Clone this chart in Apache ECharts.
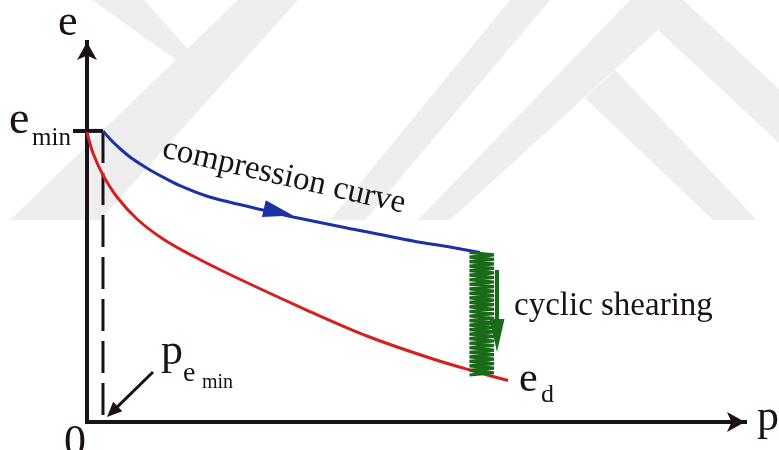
<!DOCTYPE html>
<html>
<head>
<meta charset="utf-8">
<script src="https://cdn.jsdelivr.net/npm/echarts@6.0.0/dist/echarts.min.js"></script>
<style>
  html, body { margin: 0; padding: 0; background: #ffffff; }
  #chart { width: 779px; height: 450px; }
</style>
</head>
<body>
<div id="chart"></div>
<script>
// e–p diagram: compression curve, dense-state curve and the drop caused by cyclic shearing.
// Units are schematic (both axes run 0..100).

const eMin = 76.6;          // void ratio where loading starts
const pAtEmin = 2.43;       // pressure at which e = e_min

// compression curve (blue)
const compressionP = [2.43, 3.19, 4.10, 5.17, 6.53, 8.05, 9.57, 11.85, 14.13, 17.93, 21.73, 27.36, 31.31, 39.51, 49.54, 55.17, 59.73];
const compressionE = [76.6, 75.05, 73.42, 71.71, 69.74, 67.95, 66.32, 64.16, 62.21, 59.61, 57.82, 55.53, 53.95, 51.05, 47.63, 46.05, 44.61];

// densest-state curve e_d (red)
const denseP = [0, 0.91, 2.43, 4.56, 7.60, 11.55, 16.11, 22.19, 32.37, 42.55, 52.58, 59.27, 63.98];
const denseE = [76.3, 70.79, 65.0, 59.21, 53.42, 48.16, 43.68, 38.42, 30.26, 22.63, 16.58, 13.16, 10.92];

// cyclic shearing band: p left, p right, e top, e bottom
const shearBand = [58.13, 61.85, 44.6, 12.37];
const shearTeeth = 27;

// arrows: [p from, e from, p to, e to]
const shearArrow = [62.31, 40.0, 62.31, 18.42];
const pointerArrow = [10.03, 13.16, 3.04, 1.32];

// direction marker on the compression curve
const flowMark = [29.10, 55.26];

const INK = '#1c1119';
const BLUE = '#1c31a3';
const RED = '#d42020';
const GREEN = '#196b19';
const MARK = '#eeeeee';
const SERIF = '"Liberation Serif", "Times New Roman", serif';

const zip = (xs, ys) => xs.map((x, i) => [x, ys[i]]);

// straight arrow with a filled triangular head
function arrowRenderer(headLen, headHalf, width, color) {
  return function (params, api) {
    const a = api.coord([api.value(0), api.value(1)]);
    const b = api.coord([api.value(2), api.value(3)]);
    const dx = b[0] - a[0], dy = b[1] - a[1];
    const len = Math.hypot(dx, dy);
    const ux = dx / len, uy = dy / len;
    const bx = b[0] - ux * headLen, by = b[1] - uy * headLen;
    return {
      type: 'group',
      children: [
        { type: 'line', shape: { x1: a[0], y1: a[1], x2: bx + ux * 2, y2: by + uy * 2 },
          style: { stroke: color, lineWidth: width } },
        { type: 'polygon', shape: { points: [
            [b[0], b[1]],
            [bx - uy * headHalf, by + ux * headHalf],
            [bx + uy * headHalf, by - ux * headHalf]
          ] }, style: { fill: color } }
      ]
    };
  };
}

// saw-tooth band showing repeated shearing cycles
function zigzagRenderer(params, api) {
  const pl = api.value(0), pr = api.value(1), et = api.value(2), eb = api.value(3);
  const n = shearTeeth * 2;
  const pts = [];
  for (let i = 0; i <= n; i++) {
    const e = et + (eb - et) * i / n;
    pts.push(api.coord([i % 2 === 0 ? pl : pr, e]));
  }
  return { type: 'polyline', shape: { points: pts },
           style: { stroke: GREEN, lineWidth: 3.2, fill: null, lineJoin: 'bevel' } };
}

const axisCommon = {
  type: 'value', min: 0, max: 100,
  splitLine: { show: false },
  axisLabel: { show: false },
  axisLine: {
    show: true, symbol: ['none', 'arrow'], symbolSize: [15, 18],
    lineStyle: { color: INK, width: 4, cap: 'square' }
  }
};

const option = {
  animation: false,
  backgroundColor: '#ffffff',
  grid: { left: 87, right: 34, top: 42, bottom: 28 },
  xAxis: Object.assign({}, axisCommon, { axisTick: { show: false } }),
  yAxis: Object.assign({}, axisCommon, {
    axisTick: { show: true, customValues: [eMin], length: 14, inside: false,
                lineStyle: { color: INK, width: 4 } }
  }),
  series: [
    { // e_min level up to p at e_min
      type: 'line', data: [[0, eMin], [pAtEmin, eMin]], symbol: 'none',
      lineStyle: { color: INK, width: 4 }, z: 4
    },
    { // vertical dashed line at p_emin
      type: 'line', data: [[pAtEmin, eMin], [pAtEmin, 0]], symbol: 'none',
      lineStyle: { color: INK, width: 3, type: [32, 10] }, z: 3
    },
    {
      name: 'compression curve', type: 'line', data: zip(compressionP, compressionE),
      smooth: 0.3, symbol: 'none', lineStyle: { color: BLUE, width: 3 }, z: 5
    },
    {
      name: 'e_d', type: 'line', data: zip(denseP, denseE),
      smooth: 0.35, symbol: 'none', lineStyle: { color: RED, width: 3 }, z: 5
    },
    {
      type: 'scatter', data: [flowMark], symbol: 'triangle', symbolSize: [17, 30],
      symbolRotate: -103, itemStyle: { color: BLUE, opacity: 1 }, z: 6
    },
    {
      type: 'custom', data: [shearBand], renderItem: zigzagRenderer,
      encode: { x: [0, 1], y: [2, 3] }, z: 6
    },
    {
      type: 'custom', data: [shearArrow], renderItem: arrowRenderer(33, 7.5, 4, GREEN),
      encode: { x: [0, 2], y: [1, 3] }, z: 7
    },
    {
      type: 'custom', data: [pointerArrow], renderItem: arrowRenderer(15, 6.5, 3, INK),
      encode: { x: [0, 2], y: [1, 3] }, z: 7
    }
  ]
};

const chart = echarts.init(document.getElementById('chart'), null, { renderer: 'canvas' });
chart.setOption(option);

// faint chevron emblem in the page background
const emblem = [
  [[10, 220], [100, 220], [298, 0], [238, 0]],
  [[92, 0], [144, 0], [196, 58], [176, 60]],
  [[330, 220], [365, 220], [550, 0], [510, 0]],
  [[418, 220], [450, 220], [658, 30], [779, 143], [779, 89], [683, 0], [630, 0]],
  [[585, 98], [615, 70], [757, 220], [713, 220]]
].map(pts => ({ type: 'polygon', z: -10, silent: true, shape: { points: pts }, style: { fill: MARK } }));

// text annotations, placed relative to points of the diagram
const at = (p, e) => chart.convertToPixel({ gridIndex: 0 }, [p, e]);
function label(str, x, baseline, size, extra) {
  return Object.assign({
    type: 'text', x: x, y: baseline - 0.34 * size, z: 50,
    style: { text: str, font: size + 'px ' + SERIF, fill: INK, align: 'left', verticalAlign: 'middle' }
  }, extra || {});
}

const origin = at(0, 0);
const yTop = at(0, 100);
const xEnd = at(100, 0);
const emin = at(0, eMin);
const ptr = at(pointerArrow[0], pointerArrow[1]);
const dEnd = at(denseP[denseP.length - 1], denseE[denseE.length - 1]);
const shear = at(shearArrow[0], shearArrow[1]);
const compMid = at(29.94, 64.61);

const texts = [
  label('e', yTop[0] - 29, yTop[1] - 4, 44),
  label('p', xEnd[0] + 12, xEnd[1] + 11, 44),
  label('0', origin[0] - 23, origin[1] + 36, 44),
  label('e', emin[0] - 78, emin[1] + 6, 46),
  label('min', emin[0] - 55, emin[1] + 16, 25),
  label('p', ptr[0] + 8, ptr[1] - 5, 44),
  label('e', ptr[0] + 30, ptr[1] + 11, 28),
  label('min', ptr[0] + 49, ptr[1] + 18, 20),
  label('e', dEnd[0] + 11, dEnd[1] + 14, 42),
  label('d', dEnd[0] + 33, dEnd[1] + 24, 26),
  label('cyclic shearing', shear[0] + 17, shear[1] + 48, 33),
  {
    type: 'text', x: compMid[0], y: compMid[1], rotation: -13 * Math.PI / 180, z: 50,
    style: { text: 'compression curve', font: '33px ' + SERIF, fill: INK, align: 'center', verticalAlign: 'middle' }
  }
];

chart.setOption({ graphic: { elements: emblem.concat(texts) } });
</script>
</body>
</html>
